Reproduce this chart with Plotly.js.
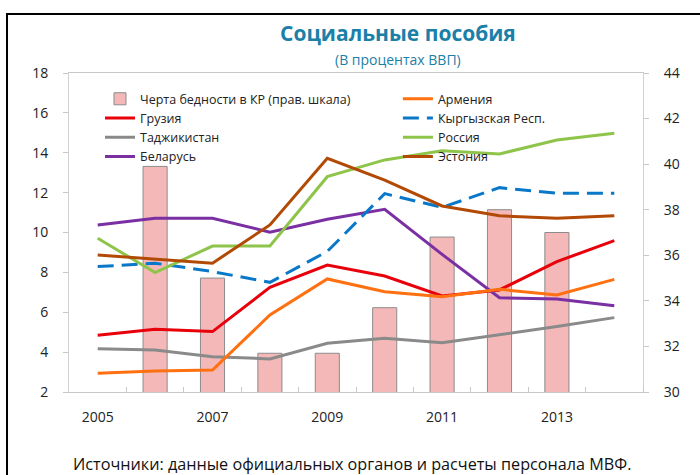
<!DOCTYPE html>
<html><head><meta charset="utf-8">
<script src="https://cdn.plot.ly/plotly-3.0.1.min.js"></script>
<style>body{margin:0;background:#fff;} #chart{width:700px;height:475px;}</style>
</head><body><div id="chart"></div>
<script>
const years = [2005,2006,2007,2008,2009,2010,2011,2012,2013,2014];
const povertyYears = [2006,2007,2008,2009,2010,2011,2012,2013];
const poverty = [39.9,35.0,31.7,31.7,33.7,36.8,38.0,37.0];
const armenia = [2.94,3.05,3.1,5.86,7.67,7.03,6.78,7.15,6.87,7.65];
const georgia = [4.85,5.15,5.03,7.25,8.37,7.82,6.82,7.12,8.54,9.59];
const kyrgyz  = [8.29,8.46,8.04,7.5,9.05,11.95,11.26,12.25,11.97,11.97];
const tajik   = [4.17,4.11,3.77,3.66,4.44,4.69,4.47,4.86,5.28,5.73];
const russia  = [9.71,7.99,9.32,9.32,12.8,13.64,14.1,13.94,14.64,14.98];
const belarus = [10.38,10.71,10.71,10.02,10.66,11.16,8.9,6.73,6.67,6.33];
const estonia = [8.87,8.66,8.46,10.38,13.72,12.63,11.33,10.84,10.71,10.84];
const tickYears = [2005,2007,2009,2011,2013];
const tickLabels = ["2005","2007","2009","2011","2013"];

const FONT = "Open Sans, Noto Sans, sans-serif";
function line(name, y, color, legend, rank, dash) {
  return {type:'scatter', mode:'lines', name:name, x:years, y:y, yaxis:'y2',
    line:{color:color, width:3, dash:dash||'solid'}, legend:legend, legendrank:rank, hoverinfo:'skip'};
}
const traces = [
  {type:'bar', name:'Черта бедности в КР (прав. шкала)', x:povertyYears, y:poverty, yaxis:'y',
   width:0.42, marker:{color:'#f4b8b8', line:{color:'#8c8c8c', width:1}}, legend:'legend', legendrank:1, hoverinfo:'skip'},
  line('Грузия', georgia, '#e8000b', 'legend', 2),
  line('Таджикистан', tajik, '#8a8a8a', 'legend', 3),
  line('Беларусь', belarus, '#7a2fa2', 'legend', 4),
  line('Армения', armenia, '#ff7011', 'legend2', 5),
  line('Кыргызская Респ.', kyrgyz, '#0a78c8', 'legend2', 6, '16px,8px'),
  line('Россия', russia, '#8fc44a', 'legend2', 7),
  line('Эстония', estonia, '#b24a05', 'legend2', 8)
];
const ax = {showgrid:false, zeroline:false, showline:true, linecolor:'#d0d0d0', linewidth:1,
  tickfont:{family:FONT, size:14, color:'#222'}};
const layout = {
  width:700, height:475, paper_bgcolor:'#fff', plot_bgcolor:'#fff',
  margin:{l:69, r:57, t:73, b:83},
  font:{family:FONT, color:'#222'},
  showlegend:true,
  xaxis: Object.assign({}, ax, {range:[2004.5,2014.5], tickmode:'array', tickvals:tickYears, ticktext:tickLabels,
    ticks:'', ticklabelstandoff:12, mirror:true, linecolor:'#c8c8c8',
    minor:{tickmode:'array', tickvals:years.map(v=>v+0.5), ticks:'inside', ticklen:5, tickcolor:'#c8c8c8'}}),
  yaxis: Object.assign({}, ax, {side:'right', range:[30,44], dtick:2, tick0:30, ticks:'outside', ticklen:5,
    tickcolor:'#c8c8c8', ticklabelstandoff:12}),
  yaxis2: Object.assign({}, ax, {side:'left', overlaying:'y', range:[2,18], dtick:2, tick0:2, ticks:'outside', ticklen:5,
    tickcolor:'#c8c8c8', ticklabelstandoff:12}),
  legend:{x:0.054, y:0.965, xanchor:'left', yanchor:'top', bgcolor:'rgba(0,0,0,0)', tracegroupgap:0,
    font:{family:FONT, size:12.5, color:'#222'}},
  legend2:{x:0.573, y:0.965, xanchor:'left', yanchor:'top', bgcolor:'rgba(0,0,0,0)', tracegroupgap:0,
    font:{family:FONT, size:12.5, color:'#222'}},
  annotations:[
    {text:'<b>Социальные пособия</b>', xref:'paper', yref:'paper', x:0.573, y:1.125, xanchor:'center', yanchor:'middle',
     showarrow:false, font:{family:FONT, size:21, color:'#1b80a8'}},
    {text:'(В процентах ВВП)', xref:'paper', yref:'paper', x:0.573, y:1.041, xanchor:'center', yanchor:'middle',
     showarrow:false, font:{family:FONT, size:14, color:'#1b80a8'}},
    {text:'Источники: данные официальных органов и расчеты персонала МВФ.', xref:'paper', yref:'paper',
     x:0.493, y:-0.226, xanchor:'center', yanchor:'middle', showarrow:false, font:{family:FONT, size:16.2, color:'#111'}}
  ],
  shapes:[
    {type:'rect', xref:'paper', yref:'paper', x0:-0.108, x1:1.103, y0:-0.28, y1:1.185,
     line:{color:'#000', width:2}, fillcolor:'rgba(0,0,0,0)'}
  ]
};
Plotly.newPlot('chart', traces, layout, {displayModeBar:false, staticPlot:true});
</script>
</body></html>
